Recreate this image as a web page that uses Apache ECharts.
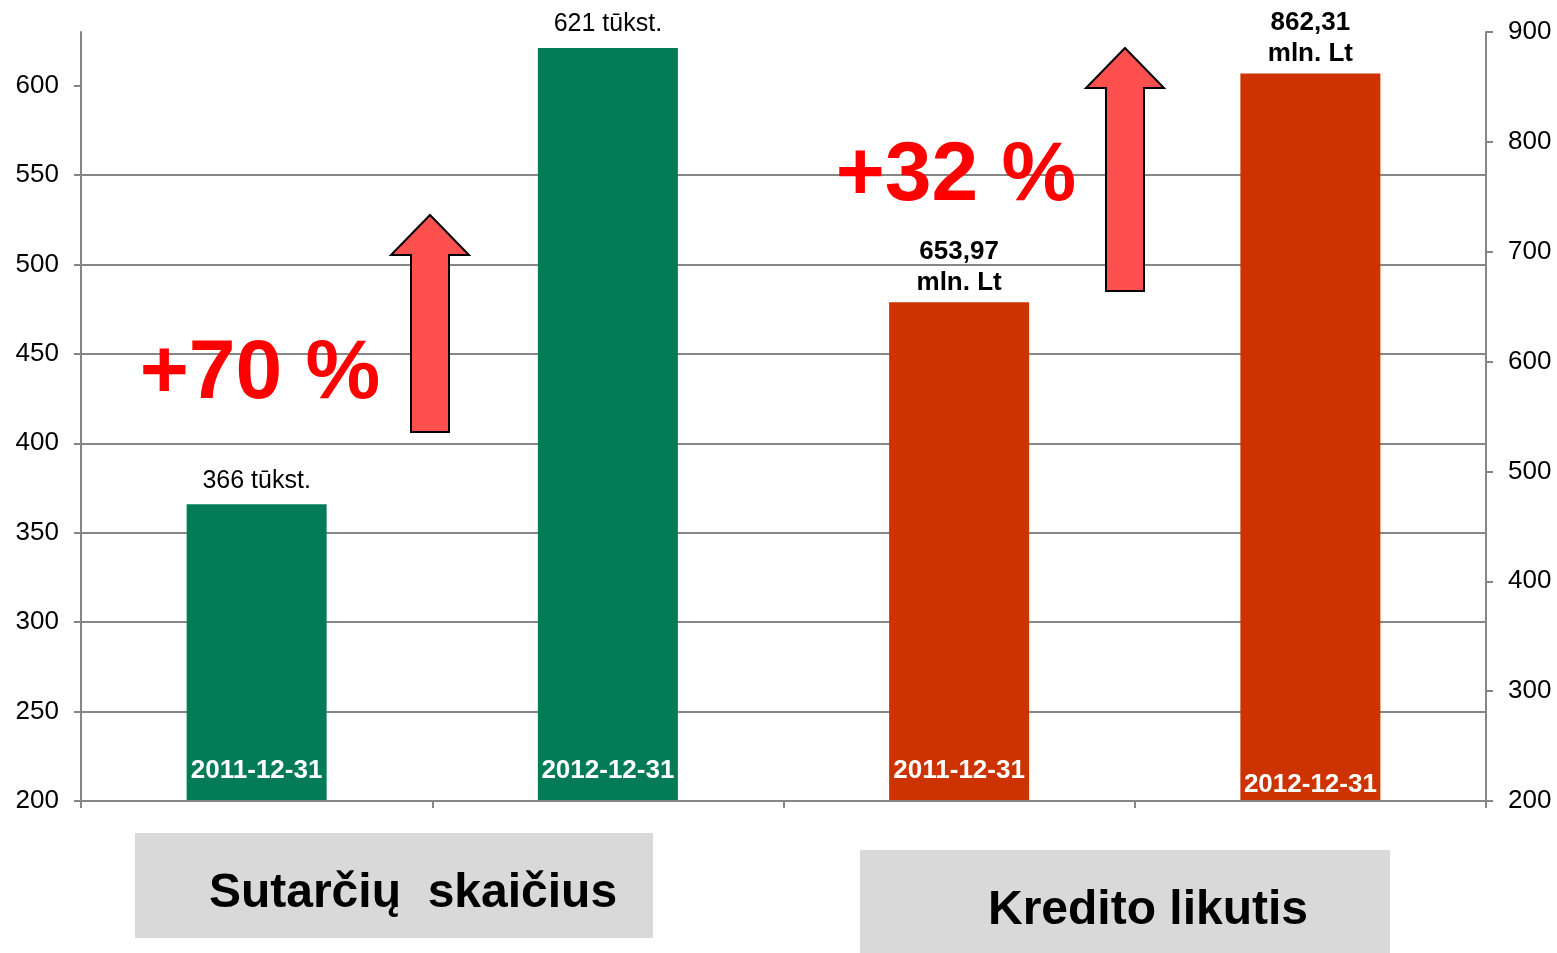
<!DOCTYPE html>
<html>
<head>
<meta charset="utf-8">
<script src="https://cdn.jsdelivr.net/npm/echarts@6/dist/echarts.min.js"></script>
<style>
  html, body { margin: 0; padding: 0; background: #fff; }
  #main { width: 1557px; height: 953px; }
</style>
</head>
<body>
<div id="main"></div>
<script>
// duomenys
var categories = ['2011-12-31', '2012-12-31', '2011-12-31', '2012-12-31'];
var sutartys = [366, 621, '-', '-'];          // tūkst.
var kreditas = ['-', '-', 653.97, 862.31];    // mln. Lt
var leftTicks = [200, 250, 300, 350, 400, 450, 500, 550, 600];
var groupTitles = ['Sutarčių  skaičius', 'Kredito likutis'];

var FONT = 'Liberation Sans, Arial, sans-serif';
var axisGray = '#868686';

function pct(a, b) { return '+' + Math.round((b / a - 1) * 100) + ' %'; }

function arrow(tipX, tipY, bottom) {
  return {
    type: 'polygon',
    shape: { points: [
      [tipX, tipY], [tipX + 39, tipY + 40], [tipX + 19, tipY + 40], [tipX + 19, bottom],
      [tipX - 19, bottom], [tipX - 19, tipY + 40], [tipX - 39, tipY + 40]
    ] },
    style: { fill: '#FF5050', stroke: '#000', lineWidth: 2 },
    z: 10
  };
}

var myChart = echarts.init(document.getElementById('main'));
var option = {
  animation: false,
  grid: { left: 81, right: 71, top: 32, bottom: 152 },
  xAxis: {
    type: 'category',
    data: categories.map(function (c, i) {
      return i === 3 ? { value: c, textStyle: { verticalAlign: 'middle' } } : c;
    }),
    axisLine: { lineStyle: { color: axisGray, width: 2 } },
    axisTick: { show: true, length: 7, lineStyle: { color: axisGray, width: 2 } },
    axisLabel: {
      inside: true, margin: 16, color: '#fff', fontWeight: 'bold',
      fontSize: 26, fontFamily: FONT,
      verticalAlign: 'bottom', lineHeight: 28, interval: 0
    },
    z: 5
  },
  yAxis: [{
    type: 'value', min: 200, max: 630, interval: 50, position: 'left',
    axisLine: { show: true, lineStyle: { color: axisGray, width: 2 } },
    axisTick: { show: true, length: 7, customValues: leftTicks, lineStyle: { color: axisGray, width: 2 } },
    axisLabel: { customValues: leftTicks, margin: 22, color: '#000', fontSize: 26, fontFamily: FONT },
    splitLine: { show: true, showMaxLine: false, lineStyle: { color: axisGray, width: 2 } }
  }, {
    type: 'value', min: 200, max: 900, interval: 100, position: 'right',
    axisLine: { show: true, lineStyle: { color: axisGray, width: 2 } },
    axisTick: { show: true, length: 7, lineStyle: { color: axisGray, width: 2 } },
    axisLabel: { margin: 22, color: '#000', fontSize: 26, fontFamily: FONT },
    splitLine: { show: false }
  }],
  series: [{
    name: 'Sutarčių skaičius', type: 'bar', yAxisIndex: 0,
    data: sutartys, barWidth: 140, barGap: '-100%',
    itemStyle: { color: '#037B57' },
    label: {
      show: true, position: 'top', distance: 11, color: '#000', fontSize: 25, fontFamily: FONT,
      formatter: function (p) { return p.value + ' tūkst.'; }
    }
  }, {
    name: 'Kredito likutis', type: 'bar', yAxisIndex: 1,
    data: kreditas, barWidth: 140, barGap: '-100%',
    itemStyle: { color: '#CC3300' },
    label: {
      show: true, position: 'top', distance: 4, color: '#000', fontSize: 26, fontWeight: 'bold',
      fontFamily: FONT, lineHeight: 31, align: 'center',
      formatter: function (p) { return p.value.toFixed(2).replace('.', ',') + '\nmln. Lt'; }
    }
  }],
  graphic: [
    arrow(430, 215, 432),
    arrow(1125, 48, 291),
    { type: 'text', x: 260, y: 375, z: 11,
      style: { text: pct(sutartys[0], sutartys[1]), fill: '#FF0000', font: 'bold 84px ' + FONT,
               align: 'center', verticalAlign: 'middle' } },
    { type: 'text', x: 956, y: 177, z: 11,
      style: { text: pct(kreditas[2], kreditas[3]), fill: '#FF0000', font: 'bold 84px ' + FONT,
               align: 'center', verticalAlign: 'middle' } },
    { type: 'rect', shape: { x: 135, y: 833, width: 518, height: 105 },
      style: { fill: '#D9D9D9' } },
    { type: 'text', x: 413, y: 894,
      style: { text: groupTitles[0], fill: '#000', font: 'bold 48px ' + FONT,
               align: 'center', verticalAlign: 'middle' } },
    { type: 'rect', shape: { x: 860, y: 850, width: 530, height: 103 },
      style: { fill: '#D9D9D9' } },
    { type: 'text', x: 1148, y: 911,
      style: { text: groupTitles[1], fill: '#000', font: 'bold 48px ' + FONT,
               align: 'center', verticalAlign: 'middle' } }
  ]
};
myChart.setOption(option);
</script>
</body>
</html>
